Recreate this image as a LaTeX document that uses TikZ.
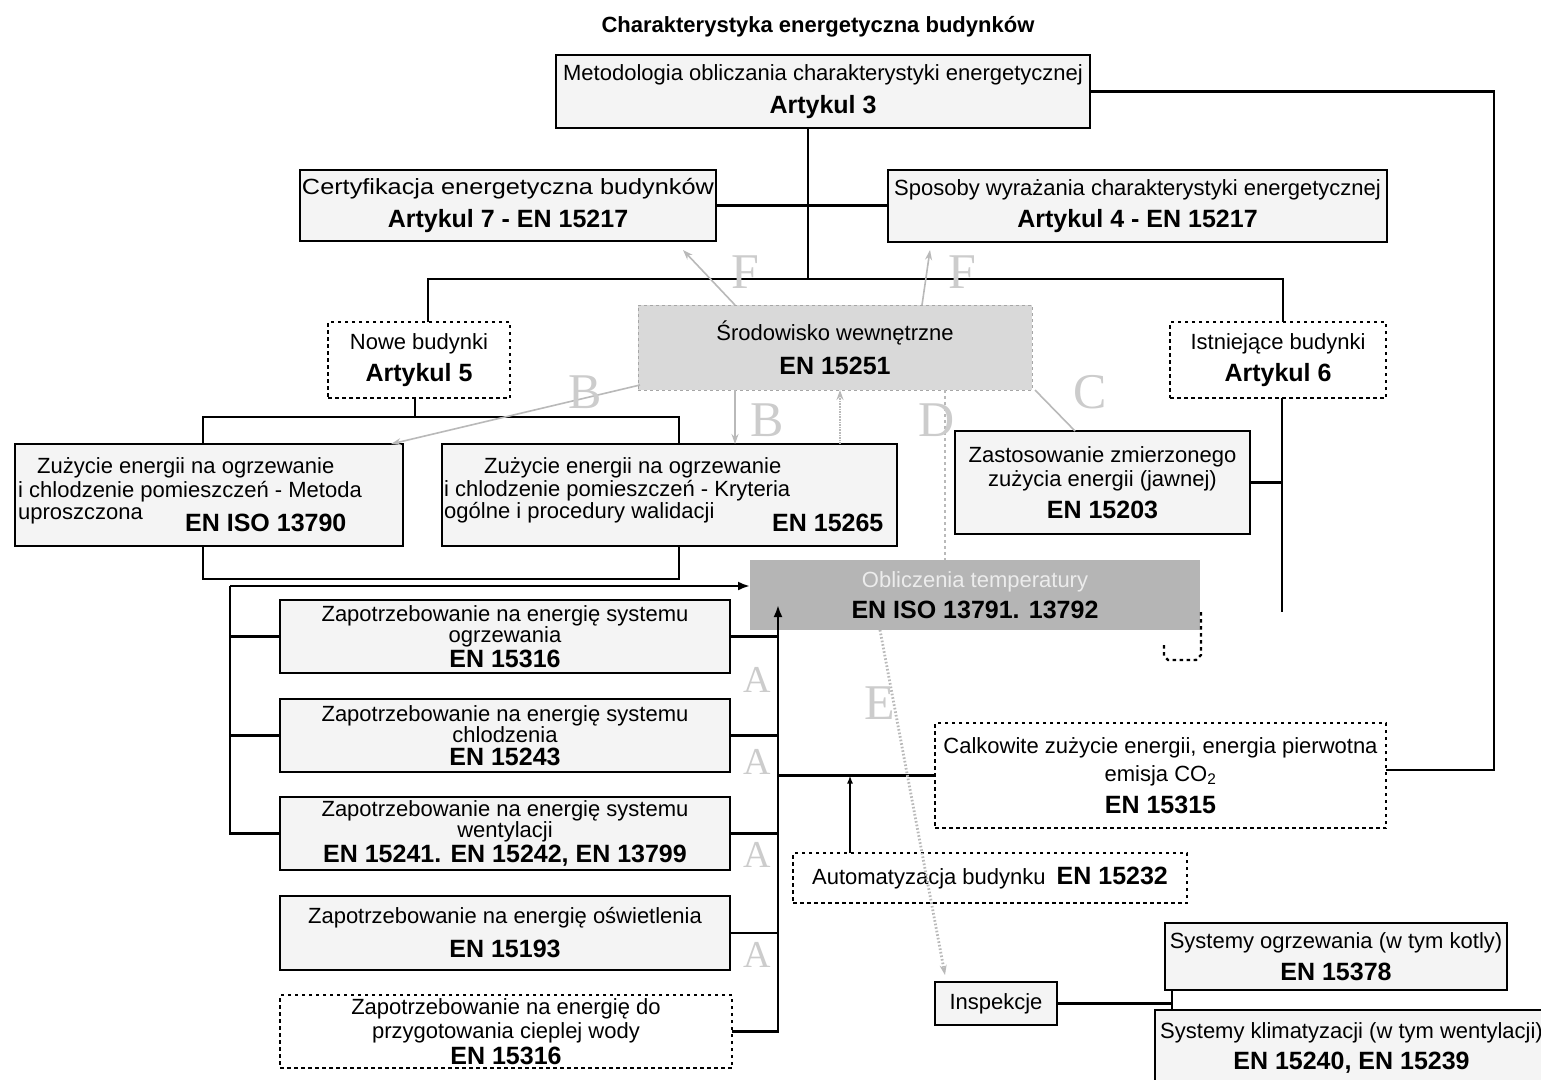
\documentclass[tikz,border=0pt]{standalone}
\usepackage{graphicx}
\usepackage{fontspec}
\setmainfont{Liberation Sans}
\newfontfamily\serifl{Liberation Serif}
\usetikzlibrary{arrows.meta,calc}
\newcommand\rg{\fontsize{22}{21}\selectfont}
\newcommand\bd{\fontsize{25}{24}\selectfont\bfseries}
\tikzset{
 sbox/.style={draw, line width=2.8pt, fill=gray!9, inner sep=0pt, outer sep=0pt, align=center, font=\rg},
 dbox/.style={draw, line width=2.8pt, dash pattern=on 3.5pt off 3.5pt, fill=white, inner sep=0pt, outer sep=0pt, align=center, font=\rg},
 srodbox/.style={draw=gray!70, line width=1pt, dashed, fill=gray!30, inner sep=0pt, outer sep=0pt, align=center, font=\rg},
 oblbox/.style={fill=gray!58, inner sep=0pt, outer sep=0pt, align=center, font=\rg},
 con/.style={line width=2.3pt},
 arr/.style={con, -{Latex[length=12pt,width=9pt]}},
 sarr/.style={con, -{Latex[length=8pt,width=6pt]}},
 ga/.style={draw=gray!55, line width=1.6pt},
 gtip/.style={-{Stealth[length=10pt,width=7pt]}},
 glet/.style={text=gray!40, font=\serifl\fontsize{50}{50}\selectfont, inner sep=0pt},
 alet/.style={text=gray!40, font=\serifl\fontsize{38}{38}\selectfont, inner sep=0pt},
 txt/.style={inner sep=0pt, anchor=base west, font=\rg},
 btxt/.style={inner sep=0pt, anchor=base west, font=\bd},
}
\begin{document}
\begin{tikzpicture}[x=1pt,y=-1pt]
\useasboundingbox (0,0) rectangle (1541,1079);
\fill[white] (0,0) rectangle (1541,1079);

% title
\node[font=\fontsize{22}{22}\selectfont\bfseries, inner sep=0pt] (title) at (818,27) {Charakterystyka energetyczna budynków};

% boxes
\node[sbox, minimum width=534pt, minimum height=73pt] (a3) at (823,91.5)
  {Metodologia obliczania charakterystyki energetycznej\\[9pt]{\bd Artykul 3}};
\node[sbox, minimum width=416pt, minimum height=71pt] (a7) at (508,205.5)
  {\scalebox{1.15}[1]{Certyfikacja energetyczna budynków}\\[9pt]{\bd Artykul 7 - EN 15217}};
\node[sbox, minimum width=499pt, minimum height=72pt] (a4) at (1137.5,206)
  {Sposoby wyrażania charakterystyki energetycznej\\[9pt]{\bd Artykul 4 - EN 15217}};
\node[dbox, minimum width=182pt, minimum height=76pt] (nowe) at (419,360)
  {Nowe budynki\\[9pt]{\bd Artykul 5}};
\node[srodbox, minimum width=394pt, minimum height=85pt] (srod) at (835,347.5)
  {Środowisko wewnętrzne\\[11pt]{\bd EN 15251}};
\node[dbox, minimum width=216pt, minimum height=76pt] (istn) at (1278,360)
  {Istniejące budynki\\[9pt]{\bd Artykul 6}};

\node[sbox, minimum width=388pt, minimum height=102pt] (b1) at (209,495) {};
\node[txt] (b1l1) at (37,473) {Zużycie energii na ogrzewanie};
\node[txt] (b1l2) at (18,497) {i chlodzenie pomieszczeń - Metoda};
\node[txt] (b1l3) at (18,519) {uproszczona};
\node[btxt] (b1l4) at (185,531) {EN ISO 13790};

\node[sbox, minimum width=455pt, minimum height=102pt] (b2) at (669.5,495) {};
\node[txt] (b2l1) at (484,473) {Zużycie energii na ogrzewanie};
\node[txt] (b2l2) at (444,496) {i chlodzenie pomieszczeń - Kryteria};
\node[txt] (b2l3) at (444,518) {ogólne i procedury walidacji};
\node[btxt] (b2l4) at (772,531) {EN 15265};

\node[sbox, minimum width=295pt, minimum height=103pt] (zast) at (1102.5,482.5)
  {Zastosowanie zmierzonego\\[3pt]zużycia energii (jawnej)\\[9pt]{\bd EN 15203}};

\node[oblbox, minimum width=450pt, minimum height=70pt] (obl) at (975,595)
  {{\color{gray!15}Obliczenia temperatury}\\[8pt]{\bd EN ISO 13791. 13792}};

\node[sbox, minimum width=450pt, minimum height=73pt] (z1) at (505,636.5)
  {Zapotrzebowanie na energię systemu\\ogrzewania\\[2pt]{\bd EN 15316}};
\node[sbox, minimum width=450pt, minimum height=73pt] (z2) at (505,735.5)
  {Zapotrzebowanie na energię systemu\\chlodzenia\\[2pt]{\bd EN 15243}};
\node[sbox, minimum width=450pt, minimum height=73pt] (z3) at (505,833.5)
  {Zapotrzebowanie na energię systemu\\wentylacji\\[2pt]{\bd EN 15241. EN 15242, EN 13799}};
\node[sbox, minimum width=450pt, minimum height=74pt] (z4) at (505,933)
  {Zapotrzebowanie na energię oświetlenia\\[11pt]{\bd EN 15193}};
\node[dbox, minimum width=452pt, minimum height=73pt] (z5) at (506,1031.5)
  {Zapotrzebowanie na energię do\\[3pt]przygotowania cieplej wody\\[3pt]{\bd EN 15316}};

\node[dbox, minimum width=451pt, minimum height=105pt] (calk) at (1160.5,775.5)
  {Calkowite zużycie energii, energia pierwotna\\[7pt]emisja CO\textsubscript{2}\\[9pt]{\bd EN 15315}};
\node[dbox, minimum width=394pt, minimum height=50pt] (auto) at (990,878)
  {Automatyzacja budynku\enspace{\bd EN 15232}};
\node[sbox, minimum width=122pt, minimum height=43pt] (insp) at (996,1003.5) {Inspekcje};
\node[sbox, minimum width=342pt, minimum height=67pt] (sog) at (1336,956.5)
  {Systemy ogrzewania (w tym kotly)\\[9pt]{\bd EN 15378}};
\node[sbox, minimum width=393pt, minimum height=75pt] (skl) at (1351.5,1047.5)
  {Systemy klimatyzacji (w tym wentylacji)\\[8pt]{\bd EN 15240, EN 15239}};

% connectors
\coordinate (busM) at (808,279);
\coordinate (busL) at (428,279);
\coordinate (busR) at (1283,279);
\draw[con] (busM |- a3.south) -- (busM);
\draw[con] (a7.east) -- (a7.east -| a4.west);
\draw[con] (busL |- nowe.north) -- (busL) -- (busR) -- (busR |- istn.north);

\coordinate (nj) at (415,417);
\coordinate (c1) at (203,417);
\coordinate (c2) at (679,417);
\draw[con] (nj |- nowe.south) -- (nj);
\draw[con] (c1 |- b1.north) -- (c1) -- (c2) -- (c2 |- b2.north);
\coordinate (d1) at (203,579);
\coordinate (d2) at (679,579);
\draw[con] (d1 |- b1.south) -- (d1) -- (d2) -- (d2 |- b2.south);

\coordinate (lv) at (230,586);
\draw[arr] (lv) -- (lv -| obl.west);
\draw[con] (lv) |- (z3.west);
\draw[con] (z1.west) -- (z1.west -| lv);
\draw[con] (z2.west) -- (z2.west -| lv);

\coordinate (rv) at (778,605);
\draw[arr] (z5.east) -| (rv);
\draw[con] (z1.east) -- (z1.east -| rv);
\draw[con] (z2.east) -- (z2.east -| rv);
\draw[con] (z3.east) -- (z3.east -| rv);
\draw[con] (z4.east) -- (z4.east -| rv);
\draw[con] (calk.west -| rv) -- (calk.west);
\coordinate (jn) at (850,775.5);
\draw[sarr] (jn |- auto.north) -- (jn);

\coordinate (rr) at (1494,770);
\draw[con] (a3.east) -| (rr) -- (rr -| calk.east);

\coordinate (iv) at (1282,612);
\draw[con] (iv |- istn.south) -- (iv);
\draw[con] (zast.east) -- (zast.east -| iv);

\coordinate (ij) at (1172,1003.5);
\draw[con] (insp.east) -- (ij);
\draw[con] (ij |- sog.south) -- (ij |- skl.north);

% small dashed corner under Obliczenia
\draw[line width=2.4pt, dash pattern=on 3.5pt off 3.5pt] (1201,612) -- (1201,655) -- (1196,660) -- (1168,660) -- (1164,656) -- (1164,645);

% grey annotations
\draw[ga, gtip] ($(srod.north west)+(97,0)$) -- ($(a7.south east)+(-33,9)$);
\node[glet] (lF1) at (745,272) {F};
\draw[ga, gtip] ($(srod.north west)+(284,0)$) -- ($(a4.south west)+(42,8)$);
\node[glet] (lF2) at (962,272) {F};
\draw[ga, gtip] ($(srod.south west)+(2,-5)$) -- ($(b1.north east)+(-12,0)$);
\node[glet] (lB1) at (585,392) {B};
\draw[ga, gtip] ($(srod.south west)+(97,0)$) coordinate (bb) -- (bb |- b2.north);
\node[glet] (lB2) at (767,420) {B};
\coordinate (dx) at (840,0);
\draw[ga, densely dotted, line width=2.4pt, gtip] (dx |- b2.north) -- (dx |- srod.south);
\coordinate (dd) at (945,0);
\draw[ga, dashed] (dd |- srod.south) -- (dd |- obl.north);
\node[glet] (lD) at (937,420) {D};
\draw[ga] ($(zast.north west)+(120,0)$) -- ($(srod.south east)+(3,0)$);
\node[glet] (lC) at (1090,392) {C};
\draw[ga, dotted, line width=2.8pt, gtip] ($(obl.south west)+(130,0)$) -- ($(insp.north west)+(10,-7)$);
\node[glet] (lE) at (880,703) {E};
\node[alet] (lA1) at (757,680) {A};
\node[alet] (lA2) at (757,762) {A};
\node[alet] (lA3) at (757,855) {A};
\node[alet] (lA4) at (757,955) {A};
\end{tikzpicture}
\end{document}
